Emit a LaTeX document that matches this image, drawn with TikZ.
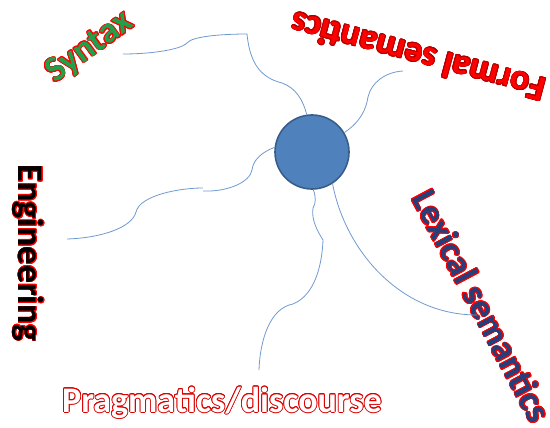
\documentclass[tikz,border=0pt]{standalone}
\usepackage{fontspec}
\setmainfont{Carlito}
\usepackage[copies]{contour}
\contourlength{0.8pt}
\contournumber{16}
\definecolor{hubfill}{HTML}{4F81BD}
\definecolor{hubline}{HTML}{385D8A}
\definecolor{twig}{HTML}{6F9AD0}
\definecolor{synfill}{HTML}{1FA04A}
\definecolor{lexfill}{HTML}{243F7A}
\tikzset{
  branch/.style={twig, line width=0.8pt},
  topic/.style={inner sep=0pt, font=\bfseries\fontsize{36}{40}\selectfont}
}

\begin{document}
\begin{tikzpicture}[x=1pt, y=-1pt]
    \useasboundingbox (0,0) rectangle (550,428);

    % central hub
    \node[circle, fill=hubfill, draw=hubline, line width=1.6pt,
          minimum size=74pt, inner sep=0pt] (hub) at (312,152) {};

    % topics
    \node[topic, rotate=36] (syn) at (90,48) {\contour{red}{\textcolor{synfill}{Syntax}}};
    \node[topic, rotate=165] (form) at (418,57) {\contour{red!70!black}{\textcolor{red}{Formal semantics}}};
    \node[topic, rotate=-90] (eng) at (28,253) {\contour{red}{\textcolor{black}{Engineering}}};
    \node[topic, rotate=-62] (lex) at (482,306) {\contour{red}{\textcolor{lexfill}{Lexical semantics}}};
    \node[topic] (prag) at (222,403) {\contour{red!85!black}{\textcolor{white}{Pragmatics/discourse}}};

    % loose ends of the branches
    \coordinate (s1) at (123,54);
    \coordinate (f1) at (403,71);
    \coordinate (e1) at (203,191);
    \coordinate (e2) at (203,188);
    \coordinate (e3) at (67,239);
    \coordinate (p1) at (259,370);
    \coordinate (l1) at (477,315);

    % branches
    \draw[branch] (hub.98) .. controls (303,100) and (296,88) .. (282,83)
        .. controls (262,78) and (250,65) .. (247,34)
        .. controls (225,34) and (192,36) .. (187,43)
        .. controls (180,50) and (150,54) .. (s1);
    \draw[branch] (hub.31) .. controls (360,122) and (366,110) .. (368,97)
        .. controls (371,83) and (385,72) .. (f1);
    \draw[branch] (hub.173) .. controls (262,152) and (253,160) .. (252,170)
        .. controls (250,182) and (228,192) .. (e1);
    \draw[branch] (e2) .. controls (180,188) and (140,195) .. (136,212)
        .. controls (132,228) and (100,238) .. (e3);
    \draw[branch] (hub.-88) .. controls (316,197) and (316,203) .. (313,208)
        .. controls (311,220) and (318,232) .. (323,240)
        .. controls (322,265) and (315,295) .. (293,304)
        .. controls (270,308) and (260,340) .. (p1);
    \draw[branch] (hub.-57) .. controls (345,250) and (400,315) .. (l1);
\end{tikzpicture}
\end{document}
